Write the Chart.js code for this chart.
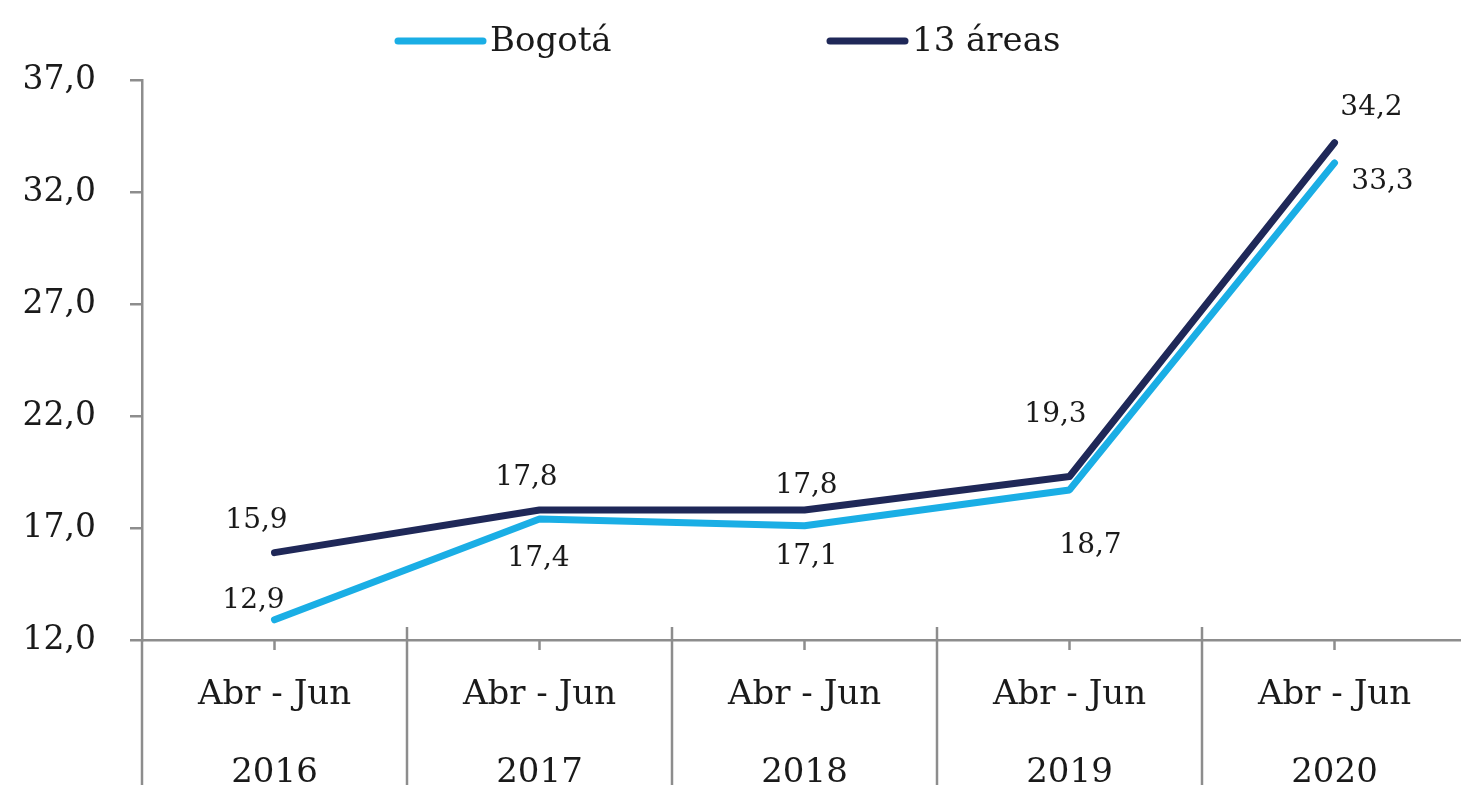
<!DOCTYPE html>
<html>
<head>
<meta charset="utf-8">
<script src="https://cdn.jsdelivr.net/npm/chart.js@4"></script>
<style>
    body { margin: 0; overflow: hidden; background: #fff; }
    #wrap { width: 1467px; height: 785px; position: relative; }
</style>
</head>
<body>
<div id="wrap"><canvas id="lineChart"></canvas></div>
<script>
// Chart data
const periods = ['Abr - Jun', 'Abr - Jun', 'Abr - Jun', 'Abr - Jun', 'Abr - Jun'];
const years = ['2016', '2017', '2018', '2019', '2020'];
const bogota = [12.9, 17.4, 17.1, 18.7, 33.3];
const areas13 = [15.9, 17.8, 17.8, 19.3, 34.2];
const yTicks = [12, 17, 22, 27, 32, 37];

const FONT = "'DejaVu Serif', serif";
const AXIS_COLOR = '#8d8d8d';

// label offsets from each point (dx, dy) in pixels
const bogotaLabelPos = [[-21, -19], [-1, 40], [2, 31], [21, 56], [48, 19]];
const areasLabelPos = [[-18, -32], [-13, -32], [2, -24], [-14, -62], [37, -35]];

// Draw the value labels next to each point
const valueLabels = {
    id: 'valueLabels',
    afterDatasetsDraw(chart) {
        const ctx = chart.ctx;
        ctx.save();
        ctx.font = '28px ' + FONT;
        ctx.fillStyle = '#1a1a1a';
        ctx.textAlign = 'center';
        ctx.textBaseline = 'middle';
        chart.data.datasets.forEach((ds, i) => {
            const meta = chart.getDatasetMeta(i);
            meta.data.forEach((pt, j) => {
                const off = ds.labelPos[j];
                ctx.fillText(ds.data[j].toFixed(1).replace('.', ','), pt.x + off[0], pt.y + off[1]);
            });
        });
        ctx.restore();
    }
};

// Category separators and small center ticks on the x axis
const xFurniture = {
    id: 'xFurniture',
    afterDraw(chart) {
        const ctx = chart.ctx;
        const x = chart.scales.x;
        const bottom = chart.chartArea.bottom;
        const n = chart.data.labels.length;
        const half = (x.getPixelForValue(1) - x.getPixelForValue(0)) / 2;
        ctx.save();
        ctx.strokeStyle = AXIS_COLOR;
        ctx.lineWidth = 2.5;
        for (let i = 0; i <= n; i++) {
            const px = x.getPixelForValue(i) - half;
            ctx.beginPath();
            ctx.moveTo(px, i === 0 ? bottom : bottom - 13);
            ctx.lineTo(px, chart.height);
            ctx.stroke();
        }
        for (let i = 0; i < n; i++) {
            const px = x.getPixelForValue(i);
            ctx.beginPath();
            ctx.moveTo(px, bottom);
            ctx.lineTo(px, bottom + 10);
            ctx.stroke();
        }
        ctx.restore();
    }
};

// Legend at the top
const topLegend = {
    id: 'topLegend',
    afterDraw(chart) {
        const ctx = chart.ctx;
        const spots = [[398, 483, 490], [830, 905, 912]];
        ctx.save();
        ctx.font = '34px ' + FONT;
        ctx.textBaseline = 'middle';
        ctx.fillStyle = '#1a1a1a';
        chart.data.datasets.forEach((ds, i) => {
            const s = spots[i];
            ctx.strokeStyle = ds.borderColor;
            ctx.lineWidth = 7;
            ctx.lineCap = 'round';
            ctx.beginPath();
            ctx.moveTo(s[0], 41);
            ctx.lineTo(s[1], 41);
            ctx.stroke();
            ctx.fillText(ds.label, s[2], 42);
        });
        ctx.restore();
    }
};

const ctx = document.getElementById('lineChart').getContext('2d');
new Chart(ctx, {
    type: 'line',
    data: {
        labels: periods.map((p, i) => [p, years[i]]),
        datasets: [{
            label: 'Bogotá',
            data: bogota,
            labelPos: bogotaLabelPos,
            borderColor: '#1aaee5',
            borderWidth: 7,
            borderCapStyle: 'round',
            borderJoinStyle: 'round',
            pointRadius: 0,
            tension: 0,
            clip: false,
            order: 2
        }, {
            label: '13 áreas',
            data: areas13,
            labelPos: areasLabelPos,
            borderColor: '#1f2858',
            borderWidth: 7,
            borderCapStyle: 'round',
            borderJoinStyle: 'round',
            pointRadius: 0,
            tension: 0,
            clip: false,
            order: 1
        }]
    },
    options: {
        responsive: true,
        maintainAspectRatio: false,
        animation: false,
        layout: {
            padding: { top: 80, left: 0, right: 0, bottom: 0 }
        },
        plugins: {
            legend: { display: false },
            tooltip: { enabled: false }
        },
        scales: {
            x: {
                offset: true,
                afterFit: (scale) => { scale.height = 145; },
                grid: { display: false },
                border: { display: true, color: AXIS_COLOR, width: 2.5 },
                ticks: {
                    color: '#1a1a1a',
                    font: { family: FONT, size: 34, lineHeight: 2.27 },
                    padding: 9,
                    maxRotation: 0
                }
            },
            y: {
                min: 12,
                max: 37,
                afterFit: (scale) => { scale.width = 142; },
                afterBuildTicks: (scale) => { scale.ticks = yTicks.map(v => ({ value: v })); },
                grid: {
                    drawOnChartArea: false,
                    tickLength: 12,
                    color: AXIS_COLOR,
                    lineWidth: 2.5
                },
                border: { display: true, color: AXIS_COLOR, width: 2.5 },
                ticks: {
                    color: '#1a1a1a',
                    font: { family: FONT, size: 33 },
                    padding: 34,
                    callback: (v) => v.toFixed(1).replace('.', ',')
                }
            }
        }
    },
    plugins: [valueLabels, xFurniture, topLegend]
});
</script>
</body>
</html>
